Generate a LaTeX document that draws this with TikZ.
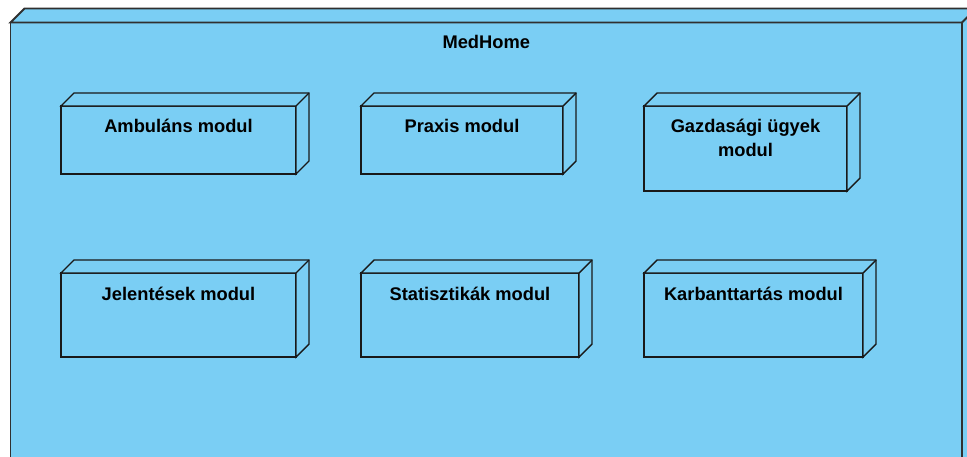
\documentclass[tikz,border=0pt]{standalone}
\usepackage{fontspec}
\setmainfont{Liberation Sans}
\definecolor{nodeblue}{RGB}{122,206,244}
\definecolor{outline}{RGB}{25,25,25}
\newcommand\nodedepth[2]{%
  \filldraw[#2] (#1.north west) -- ++(13,-13) -- ([shift={(13,-13)}]#1.north east)
    -- ([shift={(13,-13)}]#1.south east) -- (#1.south east) -- (#1.north east) -- cycle;
  \draw[#2] (#1.north east) -- ++(13,-13);
}
\begin{document}
\begin{tikzpicture}[x=1pt,y=-1pt,
  box/.style={draw=outline, fill=nodeblue, line width=1.4pt, inner sep=0pt, outer sep=0pt},
  ext/.style={draw=outline, fill=nodeblue, line width=1.4pt, line join=miter},
  outerbox/.style={draw=outline!90, fill=nodeblue, line width=1.8pt, inner sep=0pt, outer sep=0pt},
  txt/.style={font=\bfseries\fontsize{18.3}{24}\selectfont, anchor=base, align=center, inner sep=0pt}]
\useasboundingbox (0,0) rectangle (967,456);
\clip (0,0) rectangle (967,456);
% outer node
\node[outerbox, minimum width=951.5pt, minimum height=470pt] (med) at (486.25,257.5) {};
\filldraw[draw=outline!90, fill=nodeblue, line width=1.8pt] (med.north west) -- ++(14,-14) -- ([shift={(14,-14)}]med.north east)
  -- ([shift={(14,-14)}]med.south east) -- (med.south east) -- (med.north east) -- cycle;
\draw[draw=outline!90, line width=1.8pt] (med.north east) -- ++(14,-14);
\node[txt] (med-t) at ([yshift=-26pt]med.north) {MedHome};
% modules
\node[box, minimum width=235pt, minimum height=68pt] (amb) at (178.5,140) {};
\nodedepth{amb}{ext}
\node[txt] (amb-t) at ([yshift=-26pt]amb.north) {Ambuláns modul};

\node[box, minimum width=202pt, minimum height=68pt] (pra) at (462,140) {};
\nodedepth{pra}{ext}
\node[txt] (pra-t) at ([yshift=-26pt]pra.north) {Praxis modul};

\node[box, minimum width=203pt, minimum height=85pt] (gaz) at (745.5,148.5) {};
\nodedepth{gaz}{ext}
\node[txt, anchor=north] (gaz-t) at ([yshift=-13pt]gaz.north) {Gazdasági ügyek\\modul};

\node[box, minimum width=235pt, minimum height=84pt] (jel) at (178.5,315) {};
\nodedepth{jel}{ext}
\node[txt] (jel-t) at ([yshift=-27pt]jel.north) {Jelentések modul};

\node[box, minimum width=218pt, minimum height=84pt] (sta) at (470,315) {};
\nodedepth{sta}{ext}
\node[txt] (sta-t) at ([yshift=-27pt]sta.north) {Statisztikák modul};

\node[box, minimum width=219pt, minimum height=84pt] (kar) at (753.5,315) {};
\nodedepth{kar}{ext}
\node[txt] (kar-t) at ([yshift=-27pt]kar.north) {Karbanttartás modul};
\end{tikzpicture}
\end{document}
